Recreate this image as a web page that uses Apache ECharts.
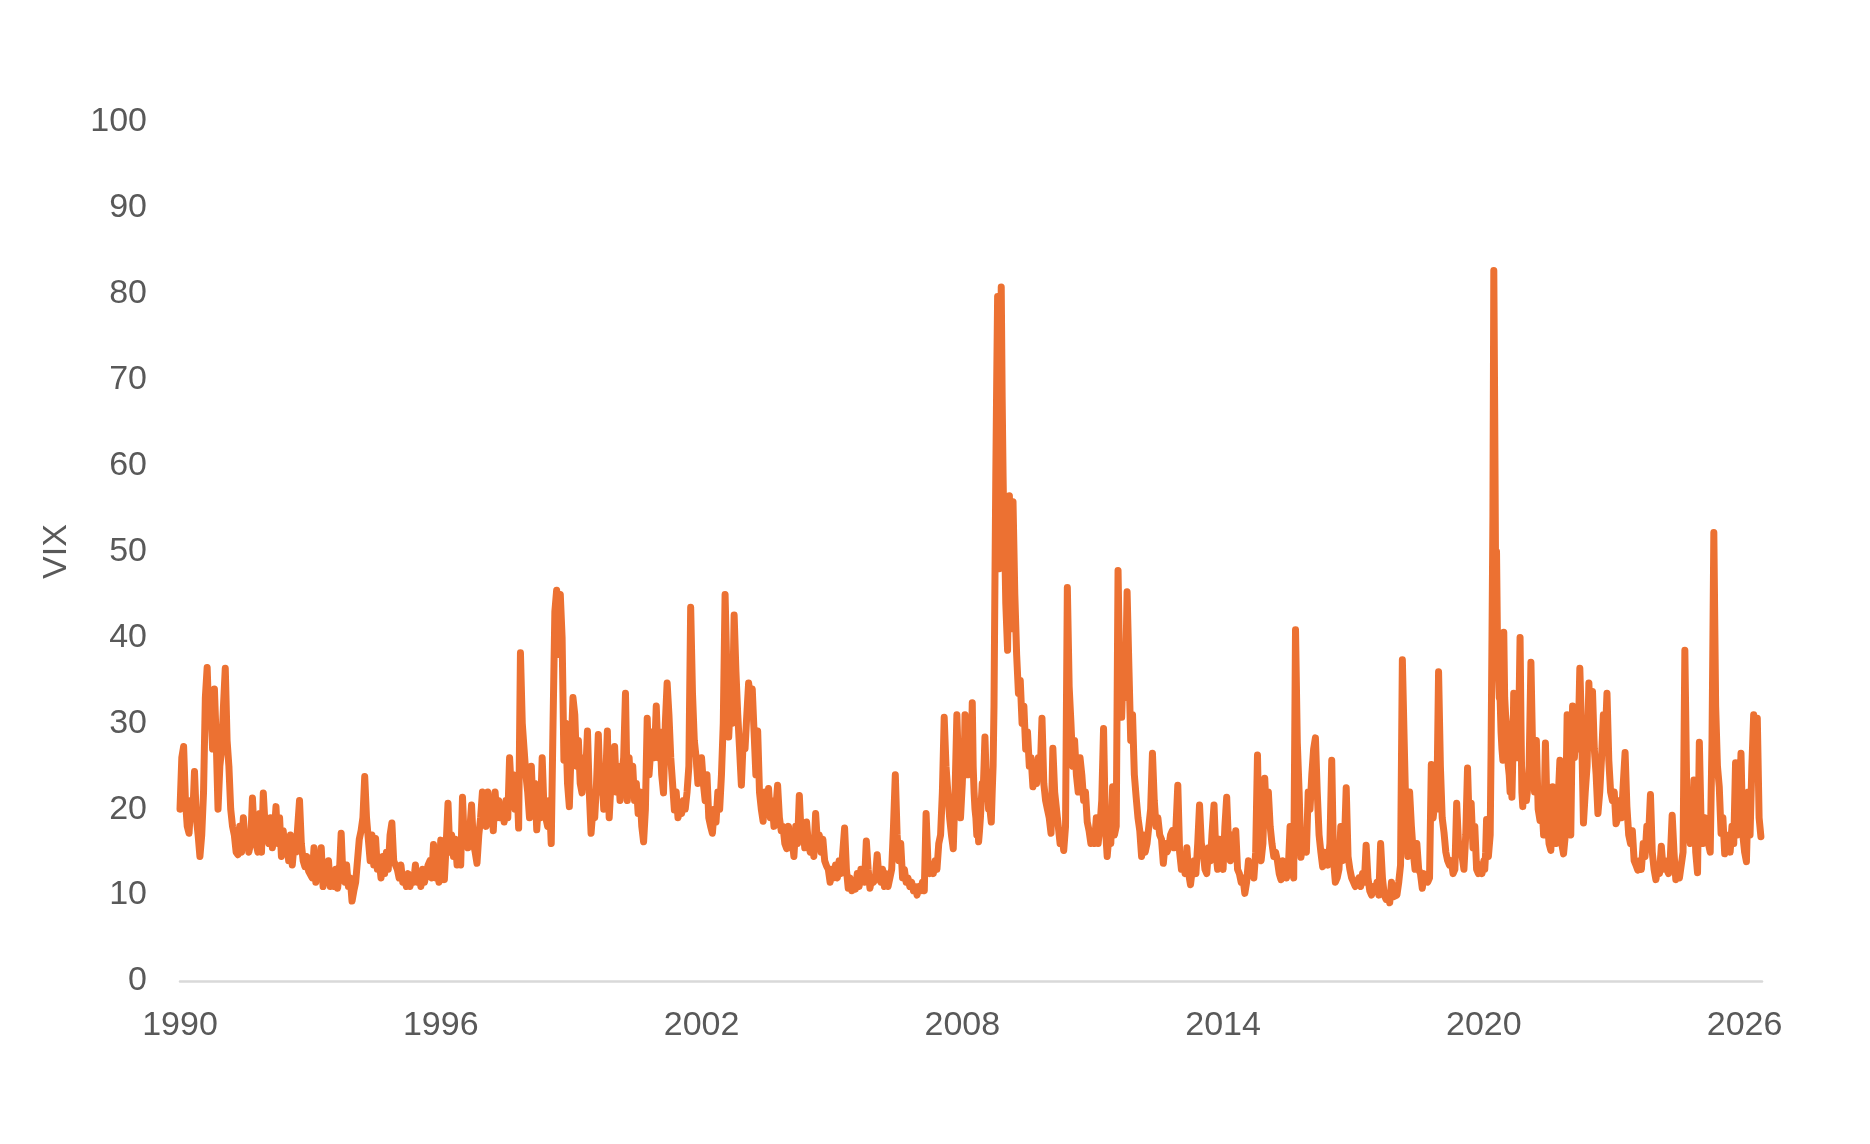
<!DOCTYPE html>
<html>
<head>
<meta charset="utf-8">
<script src="https://cdn.jsdelivr.net/npm/echarts@6/dist/echarts.min.js"></script>
<style>
html,body{margin:0;padding:0;background:#fff;}
#chart{width:1870px;height:1144px;}
</style>
</head>
<body>
<div id="chart"></div>
<script>
// Year tick labels on the x axis
const xTickLabels = [1990, 1996, 2002, 2008, 2014, 2020, 2026];
const yAxisName = 'VIX';

// VIX readings, evenly spaced within each calendar year
const v1990 = [20, 26, 27.3, 21, 18, 17.2, 21, 19, 24.4, 19, 17, 14.5, 17, 22, 33, 36.5, 30, 32, 27, 34, 28, 20, 25, 27];
const v1991 = [32, 36.4, 28, 25, 20, 18, 17, 15, 14.7, 18, 15, 19, 16, 17, 15, 16, 21.3, 17, 16, 15, 19.5, 15, 21.9, 18];
const v1992 = [18, 16, 19, 15.5, 17, 20.3, 16, 19, 14.5, 17.5, 15, 16.5, 14, 17, 13.5, 16, 15, 18, 21, 16, 14, 13.3, 14.5, 12.8];
const v1993 = [13, 12, 15.5, 11.5, 14.5, 12, 15.5, 11, 13, 11.5, 14, 11, 12.5, 11, 13, 10.8, 12.5, 17.2, 12, 11.5, 13.5, 11, 12, 9.3];
const v1994 = [10.5, 11.5, 14, 16.5, 17.5, 19, 23.8, 19, 16.5, 14, 17, 13.5, 16.6, 13, 14, 12, 14.5, 12.5, 15, 13, 17, 18.4, 14, 13.5];
const v1995 = [13, 12, 13.5, 11.5, 12, 11, 12.5, 11, 12, 11.5, 13.5, 11.5, 12.5, 11, 13, 11.5, 12.5, 13.5, 14, 12, 15.9, 12, 13, 11.5];
const v1996 = [16.4, 14, 11.8, 16, 20.7, 15, 17, 14.5, 16.5, 13.5, 15, 13.5, 21.4, 16, 18, 15.5, 17.5, 20.5, 16, 15, 13.7, 17, 19, 22];
const v1997 = [20, 18, 22, 19, 21, 17.5, 22, 19, 21, 19, 20, 18.5, 21, 19, 26, 22, 24, 20, 23.5, 17.8, 38.2, 30, 27, 24];
const v1998 = [22, 19, 25, 20, 23, 17.6, 21, 19, 26, 20, 19, 18, 21, 16, 30, 43, 45.5, 38, 45, 40, 25.7, 30, 23, 20.3];
const v1999 = [27, 33, 31, 25, 28, 23, 21.9, 26, 24, 29.1, 22, 17.2, 20, 19, 23, 28.7, 22, 24, 20, 23, 29.1, 19, 23, 24];
const v2000 = [27.3, 22, 25, 21, 24, 26, 33.5, 21, 26, 22, 25, 21, 23, 19.5, 22, 18, 16.2, 20, 30.6, 24, 27, 29, 26, 32];
const v2001 = [26, 29, 24, 21.9, 30, 34.7, 31, 26, 23, 19.9, 22, 19, 20, 19.5, 21, 20, 22, 25, 43.5, 33.5, 28, 26, 23, 24];
const v2002 = [26, 23, 21, 24, 19, 18, 17.2, 20, 18.5, 22, 20, 24, 30, 45, 36, 28.4, 33, 30, 42.6, 36, 31, 27, 22.8, 28];
const v2003 = [27, 31, 34.7, 33, 34, 29, 24, 29.1, 22, 20, 18.6, 22, 20, 22.4, 19, 21, 18, 20, 22.8, 19, 17.5, 18, 16, 15.4];
const v2004 = [18, 15.5, 16.5, 14.5, 18, 16, 21.6, 17, 18, 15.5, 18.5, 16, 15, 16.5, 14.5, 19.5, 16, 17, 15, 16.5, 14, 13.4, 13, 11.5];
const v2005 = [13, 12, 13.5, 12, 14, 12.5, 15, 17.8, 13, 10.8, 12, 10.5, 11.5, 10.7, 12.5, 11, 13, 12, 11.5, 16.3, 13, 10.8, 12, 11.5];
const v2006 = [12, 14.7, 12, 11.5, 13, 11, 12.5, 11, 12, 13, 18, 24, 17, 14, 16, 12, 13, 11.5, 12, 11, 11.5, 10.5, 11, 10];
const v2007 = [11, 10.5, 11.5, 10.5, 19.5, 14, 12.5, 13, 12.5, 14, 13, 16, 17, 22, 30.7, 25, 22, 19, 17, 15.4, 22, 31, 24, 19];
const v2008 = [23, 26, 25, 31, 27, 28, 24, 29, 26, 30, 27, 32.4, 25, 22, 20, 19, 17, 18.5, 16.2, 17.5, 19, 21, 23, 22,
               25, 28.4, 25, 22, 23, 20, 21, 19.5, 18.5, 22, 25, 32, 46, 59, 70, 79.7, 63, 48, 60, 80.8, 68, 59, 52, 50];
const v2009 = [44, 38.5, 56.5, 41, 55.8, 45, 38, 33.5, 35, 30, 32, 27, 29, 25, 26, 22.6, 25, 23, 26, 24, 30.6, 23, 21, 20];
const v2010 = [19, 17.2, 27.1, 22, 20, 18, 16, 17, 15.2, 18, 45.8, 34.3, 30, 25, 28, 24, 22, 26, 24, 21, 22, 18.5, 17.5, 16];
const v2011 = [17, 16, 19, 16, 18, 21, 29.4, 18, 14.5, 17, 16, 22.6, 17, 18, 47.8, 35, 30.7, 38, 33, 45.3, 36.5, 28, 31, 24];
const v2012 = [21.4, 19, 17.5, 14.5, 17, 15, 16, 18, 20, 26.5, 21, 18, 19, 17, 16.5, 13.7, 16, 15, 15.5, 17, 17.5, 15.5, 18, 22.8];
const v2013 = [15, 13, 14, 12.5, 15.5, 12.5, 11.2, 13, 14, 12.5, 16, 20.5, 16, 15, 13, 12.5, 15.5, 14, 17.5, 20.5, 15, 13, 16.5, 14];
const v2014 = [13, 18, 21.4, 16, 14, 17, 14.5, 17.5, 13, 12.5, 11.5, 12, 10.2, 11.5, 14, 12.5, 13.5, 12, 15, 26.3, 15, 14, 16, 23.6];
const v2015 = [19, 22, 18, 16, 14.5, 15, 14, 12.5, 11.8, 14, 13.5, 12, 13, 18, 13, 12, 40.9, 27.7, 22, 14.4, 16, 17, 15, 22];
const v2016 = [20, 24, 27, 28.3, 22, 17, 15, 13.3, 15, 14, 13.5, 16, 25.7, 14, 11.5, 12, 13, 18, 14, 16, 22.5, 14.5, 13, 12];
const v2017 = [12, 11, 11.5, 12, 11, 12.5, 11.5, 15.8, 12, 10.5, 10, 11, 10.5, 11.5, 10, 16, 12, 10, 9.5, 10.2, 9.1, 11.5, 9.8, 10];
const v2018 = [10, 11.5, 13.5, 37.4, 28, 19, 14.5, 22, 18, 15, 13, 16, 13, 12.5, 10.8, 12.5, 12, 11.5, 12, 25.2, 19, 21, 20, 36];
const v2019 = [25, 19, 17.3, 15, 14, 13.5, 14, 12.5, 13, 20.7, 16, 15.5, 14.5, 13, 17, 24.8, 17.5, 20.7, 15.5, 18, 13, 12.5, 13.5, 12.5];
const v2020 = [14, 13, 15, 18.8, 16, 14.5, 14.4, 17, 27, 40, 54, 82.7, 66, 47, 50, 40, 36, 33, 32.7, 29, 27, 25.7, 40.6, 33,
               31, 30, 27, 25, 24, 22, 23, 21.4, 26, 33.5, 27, 26, 29, 26, 29, 33, 40, 30, 22, 20.3, 23, 21, 22.5, 21];
const v2021 = [22, 25, 37.1, 26, 22, 28, 20, 18.7, 21, 17, 27.7, 19, 16, 15.2, 22.6, 17, 16, 21, 25.7, 16, 14.8, 17, 31, 18];
const v2022 = [17, 32, 26, 30, 27, 36.4, 29, 18.4, 22, 25, 34.7, 28, 33.7, 27, 24, 19.5, 22, 26, 31, 28, 33.5, 25.7, 22, 21];
const v2023 = [22, 18.3, 19, 21, 19, 23, 26.6, 20.3, 17, 16, 17.5, 14, 13.5, 12.9, 14, 13, 16, 14.5, 18, 17, 21.7, 15, 13, 11.8];
const v2024 = [13, 12.5, 15.7, 13, 14, 13, 12.5, 14.5, 19.3, 15, 11.8, 12.5, 12, 12, 15, 38.5, 22.6, 18, 16, 17, 23.4, 15, 12.6, 27.8];
const v2025 = [18, 16, 19, 17, 16, 15, 28, 52.2, 32, 25, 22.6, 17.2, 19, 14.8, 17, 16, 15, 18, 16, 25.4, 17, 19, 26.5, 17];
const v2026 = [15, 13.9, 22, 17, 25, 31, 28, 30.6, 19, 16.8];

const dataYears = [1990,1991,1992,1993,1994,1995,1996,1997,1998,1999,2000,2001,2002,2003,2004,2005,2006,2007,
                   2008,2009,2010,2011,2012,2013,2014,2015,2016,2017,2018,2019,2020,2021,2022,2023,2024,2025,2026];
const yearValues = [v1990,v1991,v1992,v1993,v1994,v1995,v1996,v1997,v1998,v1999,v2000,v2001,v2002,v2003,v2004,v2005,v2006,v2007,
                    v2008,v2009,v2010,v2011,v2012,v2013,v2014,v2015,v2016,v2017,v2018,v2019,v2020,v2021,v2022,v2023,v2024,v2025,v2026];

// Build [date-as-fractional-year, value] pairs; points per year = 24 (48 in 2008/2020)
const points = [];
dataYears.forEach((yr, k) => {
  const vals = yearValues[k];
  const perYear = vals.length >= 24 ? vals.length : 24;
  vals.forEach((v, i) => points.push([yr + i / perYear, v]));
});

const textColor = '#595959';
const fontFamily = '"Liberation Sans", Arial, sans-serif';

const chart = echarts.init(document.getElementById('chart'), null, {renderer: 'canvas'});
chart.setOption({
  animation: false,
  backgroundColor: '#ffffff',
  grid: {left: 180, right: 108, top: 122, bottom: 163, containLabel: false},
  xAxis: {
    type: 'value',
    min: 1990,
    max: 2026.4,
    axisLine: {show: true, lineStyle: {color: '#D9D9D9', width: 2.5}},
    axisTick: {show: false},
    splitLine: {show: false},
    axisLabel: {
      customValues: xTickLabels,
      formatter: v => String(Math.round(v)),
      color: textColor, fontSize: 34, fontFamily: fontFamily, margin: 28
    }
  },
  yAxis: {
    type: 'value',
    min: 0, max: 100, interval: 10,
    name: yAxisName,
    nameLocation: 'middle',
    nameGap: 106,
    nameRotate: 90,
    nameTextStyle: {color: textColor, fontSize: 34, fontFamily: fontFamily},
    axisLine: {show: false},
    axisTick: {show: false},
    splitLine: {show: false},
    axisLabel: {color: textColor, fontSize: 34, fontFamily: fontFamily, margin: 33}
  },
  series: [{
    type: 'line',
    data: points,
    showSymbol: false,
    symbol: 'none',
    lineStyle: {color: '#EC7132', width: 7, cap: 'round', join: 'round'},
    z: 3
  }]
});
</script>
</body>
</html>
